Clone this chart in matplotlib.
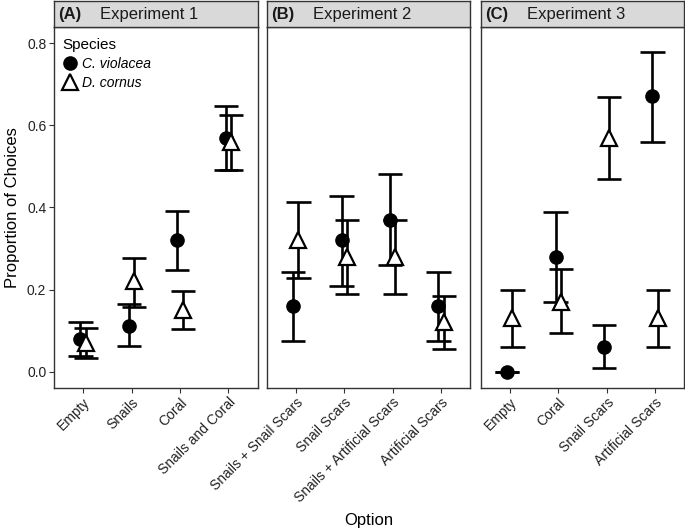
import matplotlib

matplotlib.use("Agg")
import matplotlib.pyplot as plt
from matplotlib.lines import Line2D

plt.rcParams["font.family"] = ["Liberation Sans", "DejaVu Sans"]

# one list per experiment: options, then mean / lower / upper for each species
exp1_options = ["Empty", "Snails", "Coral", "Snails and Coral"]
exp1_cv = [0.08, 0.11, 0.32, 0.57]
exp1_cv_lo = [0.039, 0.063, 0.247, 0.491]
exp1_cv_hi = [0.122, 0.164, 0.391, 0.646]
exp1_dc = [0.07, 0.22, 0.15, 0.56]
exp1_dc_lo = [0.034, 0.158, 0.103, 0.491]
exp1_dc_hi = [0.106, 0.276, 0.196, 0.626]

exp2_options = ["Snails + Snail Scars", "Snail Scars", "Snails + Artificial Scars", "Artificial Scars"]
exp2_cv = [0.16, 0.32, 0.37, 0.16]
exp2_cv_lo = [0.075, 0.209, 0.26, 0.075]
exp2_cv_hi = [0.243, 0.428, 0.48, 0.243]
exp2_dc = [0.32, 0.28, 0.28, 0.12]
exp2_dc_lo = [0.227, 0.189, 0.189, 0.055]
exp2_dc_hi = [0.412, 0.369, 0.369, 0.185]

exp3_options = ["Empty", "Coral", "Snail Scars", "Artificial Scars"]
exp3_cv = [0.0, 0.28, 0.06, 0.67]
exp3_cv_lo = [0.0, 0.17, 0.008, 0.56]
exp3_cv_hi = [0.0, 0.389, 0.114, 0.779]
exp3_dc = [0.13, 0.17, 0.57, 0.13]
exp3_dc_lo = [0.061, 0.093, 0.469, 0.061]
exp3_dc_hi = [0.199, 0.249, 0.669, 0.199]

panels = [
    ("(A)", "Experiment 1", exp1_options, exp1_cv, exp1_cv_lo, exp1_cv_hi, exp1_dc, exp1_dc_lo, exp1_dc_hi),
    ("(B)", "Experiment 2", exp2_options, exp2_cv, exp2_cv_lo, exp2_cv_hi, exp2_dc, exp2_dc_lo, exp2_dc_hi),
    ("(C)", "Experiment 3", exp3_options, exp3_cv, exp3_cv_lo, exp3_cv_hi, exp3_dc, exp3_dc_lo, exp3_dc_hi),
]

W, H = 685, 531
fig = plt.figure(figsize=(W / 100, H / 100), dpi=100)

lefts = [54, 266.7, 480.7]
width = 203.5
top, bottom, strip_top = 27, 387.7, 1
dodge = 0.055
cap = 0.25
edge = "#333333"

for i, (tag, title, options, cv, cv_lo, cv_hi, dc, dc_lo, dc_hi) in enumerate(panels):
    ax = fig.add_axes([lefts[i] / W, (H - bottom) / H, width / W, (bottom - top) / H])
    x = list(range(len(options)))
    for offs, lo, hi in [(-dodge, cv_lo, cv_hi), (dodge, dc_lo, dc_hi)]:
        xs = [v + offs for v in x]
        ax.vlines(xs, lo, hi, color="black", lw=1.9, zorder=2)
        ax.hlines(lo, [v - cap for v in xs], [v + cap for v in xs], color="black", lw=1.9, zorder=2)
        ax.hlines(hi, [v - cap for v in xs], [v + cap for v in xs], color="black", lw=1.9, zorder=2)
    ax.plot([v - dodge for v in x], cv, "o", ms=9.5, color="black", zorder=3)
    ax.plot([v + dodge for v in x], dc, "^", ms=11.5, mfc="white", mec="black", mew=1.6, zorder=4)

    ax.set_xlim(-0.6, len(options) - 0.4)
    ax.set_ylim(-0.039, 0.839)
    ax.set_xticks(x)
    ax.set_xticklabels(options, rotation=45, ha="right", rotation_mode="anchor", fontsize=10, color="#222222")
    ax.set_yticks([0.0, 0.2, 0.4, 0.6, 0.8])
    if i == 0:
        ax.set_yticklabels(["0.0", "0.2", "0.4", "0.6", "0.8"], fontsize=10, color="#222222")
        ax.set_ylabel("Proportion of Choices", fontsize=12, labelpad=5)
        ax.tick_params(axis="y", length=3.5, width=0.8, color=edge, pad=2)
    else:
        ax.tick_params(axis="y", left=False, labelleft=False)
    ax.tick_params(axis="x", length=3.5, width=0.8, color=edge, pad=2)
    for s in ax.spines.values():
        s.set_color(edge)
        s.set_linewidth(1.0)

    sax = fig.add_axes([lefts[i] / W, (H - top) / H, width / W, (top - strip_top) / H])
    sax.set_facecolor("#D9D9D9")
    sax.set_xticks([])
    sax.set_yticks([])
    for s in sax.spines.values():
        s.set_color(edge)
        s.set_linewidth(1.0)
    sax.annotate(tag, (0, 0.5), xycoords="axes fraction", xytext=(3.0, 0), textcoords="offset points",
                 va="center", ha="left", fontsize=12, fontweight="bold", color="#1a1a1a")
    sax.annotate(title, (0, 0.5), xycoords="axes fraction", xytext=(33, 0), textcoords="offset points",
                 va="center", ha="left", fontsize=12, color="#1a1a1a")

    if i == 0:
        handles = [
            Line2D([], [], marker="o", ls="none", ms=9.5, color="black"),
            Line2D([], [], marker="^", ls="none", ms=11.5, mfc="white", mec="black", mew=1.6),
        ]
        leg = ax.legend(handles, ["C. violacea", "D. cornus"], title="Species", loc="upper left",
                        bbox_to_anchor=(-0.015, 1.0), frameon=False, fontsize=10, title_fontsize=11,
                        handletextpad=0.3, borderaxespad=0.4, labelspacing=0.35, handlelength=1.1)
        leg._legend_box.align = "left"
        for t in leg.get_texts():
            t.set_fontstyle("italic")

fig.text((54 + 683.7) / 2 / W, 11 / H, "Option", ha="center", va="center", fontsize=12)

fig.savefig("out.png", dpi=100)
